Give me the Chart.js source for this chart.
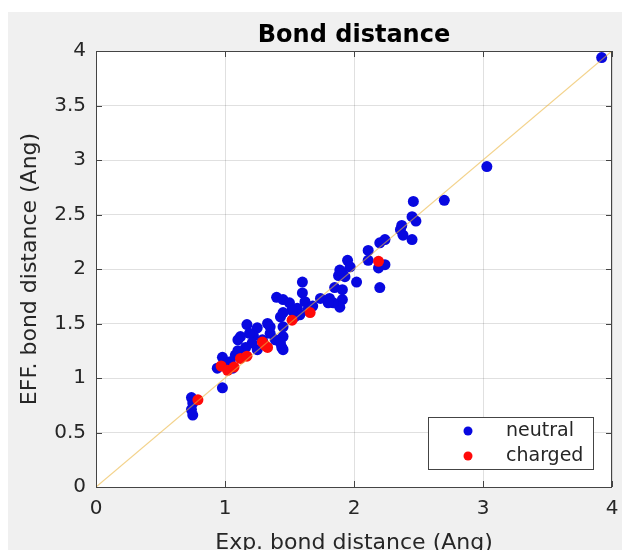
<!DOCTYPE html>
<html><head><meta charset="utf-8">
<script src="https://cdn.jsdelivr.net/npm/chart.js@4.4.0/dist/chart.umd.min.js"></script>
<style>html,body{margin:0;padding:0;background:#fff;}#wrap{width:622px;height:550px;}</style>
</head><body><div id="wrap"><canvas id="c" width="622" height="550"></canvas></div>
<script>
const titleText = "Bond distance";
const xLabel = "Exp. bond distance (Ang)";
const yLabel = "EFF. bond distance (Ang)";
const seriesNames = ["neutral", "charged"];
const xTicks = [0, 1, 2, 3, 4];
const yTicks = [0, 0.5, 1, 1.5, 2, 2.5, 3, 3.5, 4];
const refLineX = [0, 4];
const refLineY = [0, 4];
const neutralX = [3.92,3.03,2.70,2.46,2.45,2.48,2.37,2.36,2.38,2.45,2.24,2.20,2.11,2.11,2.19,2.24,2.20,1.95,1.97,1.91,1.88,1.93,2.02,1.85,1.91,1.89,1.84,1.89,1.91,1.81,1.74,1.80,1.60,1.60,1.40,1.45,1.50,1.56,1.64,1.58,1.43,1.33,1.25,1.22,1.29,1.45,1.44,1.45,1.25,1.17,1.12,1.19,1.35,1.39,1.16,1.08,0.98,1.04,0.94,1.06,0.98,0.74,0.75,0.74,0.75,1.21,1.52,1.45,1.54,1.35,1.45,1.43,1.10,1.62,1.68,1.10,1.02];
const neutralY = [3.94,2.94,2.63,2.62,2.48,2.44,2.40,2.36,2.31,2.27,2.27,2.24,2.17,2.08,2.01,2.04,1.83,2.08,2.02,1.97,1.94,1.93,1.88,1.83,1.72,1.65,1.69,1.99,1.81,1.73,1.73,1.69,1.88,1.78,1.74,1.72,1.69,1.64,1.62,1.58,1.56,1.50,1.46,1.39,1.35,1.38,1.28,1.26,1.26,1.49,1.38,1.41,1.41,1.35,1.28,1.21,1.19,1.15,1.09,1.09,0.91,0.82,0.77,0.71,0.66,1.32,1.62,1.60,1.56,1.47,1.47,1.32,1.35,1.70,1.66,1.25,1.13];
const chargedX = [0.79,0.97,1.02,1.07,1.12,1.17,1.29,1.33,1.31,1.52,1.66,2.19];
const chargedY = [0.80,1.11,1.07,1.10,1.18,1.20,1.33,1.28,1.30,1.53,1.60,2.07];

const FONT = "'DejaVu Sans', sans-serif";
const BLUE = '#0808e0', RED = '#ff0a0a';
const toPts = (xs, ys) => xs.map((x, i) => ({x: x, y: ys[i]}));

const deco = {
  id: 'deco',
  beforeDraw(chart) {
    const ctx = chart.ctx, a = chart.chartArea;
    ctx.save();
    ctx.fillStyle = '#ffffff'; ctx.fillRect(0, 0, chart.width, chart.height);
    ctx.fillStyle = '#f0f0f0'; ctx.fillRect(8, 12, chart.width - 8, chart.height - 12);
    ctx.fillStyle = '#ffffff'; ctx.fillRect(a.left, a.top, a.right - a.left, a.bottom - a.top);
    ctx.restore();
  },
  afterDraw(chart) {
    const ctx = chart.ctx, a = chart.chartArea;
    const xs = chart.scales.x, ys = chart.scales.y;
    ctx.save();
    ctx.strokeStyle = '#444444'; ctx.lineWidth = 1;
    ctx.strokeRect(Math.round(a.left) + 0.5, Math.round(a.top) + 0.5, Math.round(a.right - a.left) - 1, Math.round(a.bottom - a.top));
    const tl = 6;
    ctx.beginPath();
    xTicks.forEach(v => {
      const px = Math.round(xs.getPixelForValue(v)) + 0.5;
      ctx.moveTo(px, a.bottom); ctx.lineTo(px, a.bottom - tl);
      ctx.moveTo(px, a.top); ctx.lineTo(px, a.top + tl);
    });
    yTicks.forEach(v => {
      const py = Math.round(ys.getPixelForValue(v)) + 0.5;
      ctx.moveTo(a.left, py); ctx.lineTo(a.left + tl, py);
      ctx.moveTo(a.right, py); ctx.lineTo(a.right - tl, py);
    });
    ctx.stroke();
    // title
    ctx.fillStyle = '#000000';
    ctx.font = 'bold 24px ' + FONT;
    ctx.textAlign = 'center'; ctx.textBaseline = 'alphabetic';
    ctx.fillText(titleText, (a.left + a.right) / 2, 42);
    // axis labels
    ctx.fillStyle = '#262626';
    ctx.font = '22px ' + FONT;
    ctx.textBaseline = 'middle';
    ctx.fillText(xLabel, (a.left + a.right) / 2, 543);
    ctx.save();
    ctx.translate(30, (a.top + a.bottom) / 2);
    ctx.rotate(-Math.PI / 2);
    ctx.fillText(yLabel, 0, 0);
    ctx.restore();
    // legend
    const lx = 428, ly = 417, lw = 165, lh = 52;
    ctx.fillStyle = '#ffffff'; ctx.fillRect(lx, ly, lw, lh);
    ctx.strokeStyle = '#444444'; ctx.strokeRect(lx + 0.5, ly + 0.5, lw, lh);
    const items = [[seriesNames[0], BLUE, ly + 14], [seriesNames[1], RED, ly + 39]];
    ctx.font = '19px ' + FONT; ctx.textAlign = 'left'; ctx.textBaseline = 'middle';
    items.forEach(([t, c, yy]) => {
      ctx.fillStyle = c; ctx.beginPath(); ctx.arc(468, yy, 4.5, 0, Math.PI * 2); ctx.fill();
      ctx.fillStyle = '#262626'; ctx.fillText(t, 506, yy);
    });
    ctx.restore();
  }
};

const fmt = v => String(v);

new Chart(document.getElementById('c'), {
  type: 'scatter',
  data: {
    datasets: [
      {label: 'ref', type: 'line', data: toPts(refLineX, refLineY), borderColor: 'rgba(235,180,60,0.6)', borderWidth: 1.2, pointRadius: 0, fill: false, order: 0, clip: 0},
      {label: seriesNames[0], data: toPts(neutralX, neutralY), backgroundColor: BLUE, borderColor: BLUE, pointRadius: 5.5, borderWidth: 0, order: 2, clip: 6},
      {label: seriesNames[1], data: toPts(chargedX, chargedY), backgroundColor: RED, borderColor: RED, pointRadius: 5.5, borderWidth: 0, order: 1, clip: 6}
    ]
  },
  options: {
    responsive: false, animation: false,
    layout: {padding: {left: 0, top: 51, right: 10, bottom: 0}},
    plugins: {legend: {display: false}, tooltip: {enabled: false}, title: {display: false}},
    scales: {
      x: {
        type: 'linear', min: 0, max: 4,
        afterBuildTicks: s => { s.ticks = xTicks.map(v => ({value: v})); },
        afterFit: s => { s.height = 63; s.paddingLeft = 0; s.paddingRight = 0; },
        ticks: {font: {family: FONT, size: 20}, color: '#262626', padding: 10, maxRotation: 0, callback: fmt},
        grid: {color: 'rgba(38,38,38,0.14)', drawTicks: false},
        border: {display: false}
      },
      y: {
        type: 'linear', min: 0, max: 4,
        afterBuildTicks: s => { s.ticks = yTicks.map(v => ({value: v})); },
        afterFit: s => { s.width = 96; s.paddingTop = 0; s.paddingBottom = 0; },
        ticks: {font: {family: FONT, size: 20}, color: '#262626', padding: 10, callback: fmt},
        grid: {color: 'rgba(38,38,38,0.14)', drawTicks: false},
        border: {display: false}
      }
    }
  },
  plugins: [deco]
});
</script></body></html>
